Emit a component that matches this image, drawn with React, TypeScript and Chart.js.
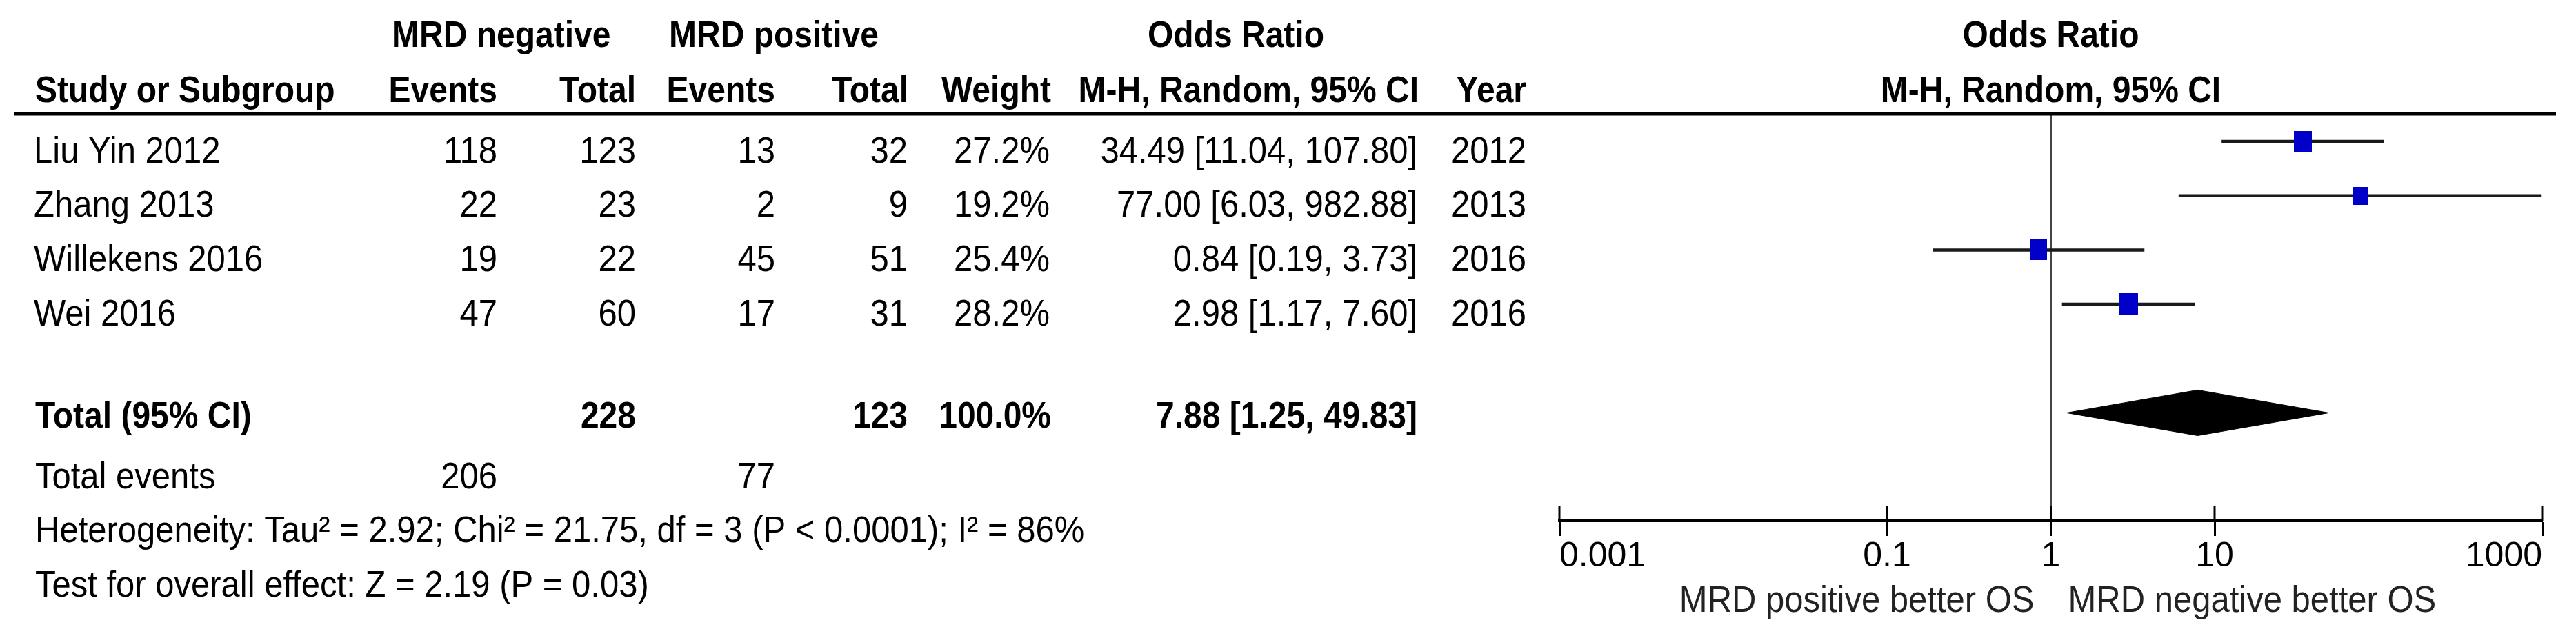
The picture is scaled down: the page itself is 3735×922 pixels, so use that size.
import React, { useEffect, useRef } from 'react';
import { Chart, registerables } from 'chart.js';

Chart.register(...registerables);

// ---------------- data ----------------
const studies = ['Liu Yin 2012', 'Zhang 2013', 'Willekens 2016', 'Wei 2016'];
const negEvents = [118, 22, 19, 47];
const negTotals = [123, 23, 22, 60];
const posEvents = [13, 2, 45, 17];
const posTotals = [32, 9, 51, 31];
const weights = [27.2, 19.2, 25.4, 28.2];
const orEst = [34.49, 77.0, 0.84, 2.98];
const orLow = [11.04, 6.03, 0.19, 1.17];
const orHigh = [107.8, 982.88, 3.73, 7.6];
const years = [2012, 2013, 2016, 2016];

const totalNegN = 228;
const totalPosN = 123;
const totalWeight = 100.0;
const pooledEst = 7.88;
const pooledLow = 1.25;
const pooledHigh = 49.83;
const totalEventsNeg = 206;
const totalEventsPos = 77;

const heterogeneityText = 'Heterogeneity: Tau\u00B2 = 2.92; Chi\u00B2 = 21.75, df = 3 (P < 0.0001); I\u00B2 = 86%';
const overallText = 'Test for overall effect: Z = 2.19 (P = 0.03)';

const tickValues = [0.001, 0.1, 1, 10, 1000];
const tickLabels = ['0.001', '0.1', '1', '10', '1000'];
const favoursLeft = 'MRD positive better OS';
const favoursRight = 'MRD negative better OS';

// ---------------- layout ----------------
const W = 3735;
const H = 922;
const FONT = '"Liberation Sans", Arial, Helvetica, sans-serif';
const Y_MIN = -0.51;
const Y_MAX = 6.99;
const TOTAL_ROW = 5;
const EVENTS_ROW = 6;
const HET_ROW = 7;
const TEST_ROW = 8;
const DIAMOND_HALF = 0.42;
const SY = 1.1;

const fmtOR = (e: number, l: number, h: number) => `${e.toFixed(2)} [${l.toFixed(2)}, ${h.toFixed(2)}]`;

function makeBox(w: number): HTMLCanvasElement {
  const c = document.createElement('canvas');
  const side = Math.round(5 * Math.sqrt(w));
  c.width = side;
  c.height = Math.round(side * 1.2);
  const g = c.getContext('2d')!;
  g.fillStyle = '#0000C8';
  g.fillRect(0, 0, c.width, c.height);
  return c;
}

function txt(ctx: CanvasRenderingContext2D, s: string, x: number, y: number, align: CanvasTextAlign, bold = false, size = 49, color = '#000') {
  ctx.save();
  ctx.translate(x, y);
  ctx.scale(1, SY);
  ctx.font = `${bold ? 'bold ' : ''}${size}px ${FONT}`;
  ctx.fillStyle = color;
  ctx.textAlign = align;
  ctx.textBaseline = 'alphabetic';
  ctx.fillText(s, 0, 0);
  ctx.restore();
}

const tablePlugin = {
  id: 'forestTable',
  afterDraw(chart: any) {
    const ctx: CanvasRenderingContext2D = chart.ctx;
    const xs = chart.scales.x;
    const ys = chart.scales.y;
    const area = chart.chartArea;
    ctx.save();

    // header rule
    ctx.strokeStyle = '#000';
    ctx.lineWidth = 5;
    ctx.beginPath();
    ctx.moveTo(20, area.top);
    ctx.lineTo(3706, area.top);
    ctx.stroke();

    // upper halves of the axis tick marks
    ctx.lineWidth = 3;
    xs.ticks.forEach((t: any) => {
      const px = xs.getPixelForValue(t.value);
      ctx.beginPath();
      ctx.moveTo(px, xs.top - 22);
      ctx.lineTo(px, xs.top);
      ctx.stroke();
    });

    const one = xs.getPixelForValue(1);

    // headers
    txt(ctx, 'MRD negative', 568, 68, 'left', true, 48);
    txt(ctx, 'MRD positive', 970, 68, 'left', true, 48);
    txt(ctx, 'Odds Ratio', 1792, 68, 'center', true, 48);
    txt(ctx, 'Odds Ratio', one, 68, 'center', true, 48);

    txt(ctx, 'Study or Subgroup', 51, 148, 'left', true, 48);
    txt(ctx, 'Events', 721, 148, 'right', true, 48);
    txt(ctx, 'Total', 922, 148, 'right', true, 48);
    txt(ctx, 'Events', 1124, 148, 'right', true, 48);
    txt(ctx, 'Total', 1317, 148, 'right', true, 48);
    txt(ctx, 'Weight', 1524, 148, 'right', true, 48);
    txt(ctx, 'M-H, Random, 95% CI', 2057, 148, 'right', true, 48);
    txt(ctx, 'Year', 2213, 148, 'right', true, 48);
    txt(ctx, 'M-H, Random, 95% CI', one, 148, 'center', true, 48);

    // study rows
    studies.forEach((s, i) => {
      const by = ys.getPixelForValue(i) + 30.5;
      txt(ctx, s, 49, by, 'left');
      txt(ctx, String(negEvents[i]), 721, by, 'right');
      txt(ctx, String(negTotals[i]), 922, by, 'right');
      txt(ctx, String(posEvents[i]), 1124, by, 'right');
      txt(ctx, String(posTotals[i]), 1316, by, 'right');
      txt(ctx, `${weights[i].toFixed(1)}%`, 1522, by, 'right');
      txt(ctx, fmtOR(orEst[i], orLow[i], orHigh[i]), 2055, by, 'right');
      txt(ctx, String(years[i]), 2213, by, 'right');
    });

    // total row
    const ty = ys.getPixelForValue(TOTAL_ROW) + 22;
    txt(ctx, 'Total (95% CI)', 51, ty, 'left', true, 48);
    txt(ctx, String(totalNegN), 922, ty, 'right', true, 48);
    txt(ctx, String(totalPosN), 1316, ty, 'right', true, 48);
    txt(ctx, `${totalWeight.toFixed(1)}%`, 1524, ty, 'right', true, 48);
    txt(ctx, fmtOR(pooledEst, pooledLow, pooledHigh), 2055, ty, 'right', true, 48);

    const ey = ys.getPixelForValue(EVENTS_ROW) + 30.5;
    txt(ctx, 'Total events', 51, ey, 'left');
    txt(ctx, String(totalEventsNeg), 721, ey, 'right');
    txt(ctx, String(totalEventsPos), 1124, ey, 'right');

    txt(ctx, heterogeneityText, 51, ys.getPixelForValue(HET_ROW) + 30.5, 'left');
    txt(ctx, overallText, 51, ys.getPixelForValue(TEST_ROW) + 30.5, 'left');

    // favours labels
    txt(ctx, favoursLeft, one - 24, 887, 'right', false, 49, '#222');
    txt(ctx, favoursRight, one + 25, 887, 'left', false, 49, '#222');

    ctx.restore();
  },
};

export default function App() {
  const ref = useRef<HTMLCanvasElement>(null);

  useEffect(() => {
    const canvas = ref.current;
    if (!canvas) return;
    const boxes = weights.map(makeBox);

    const ciSets = studies.map((s, i) => ({
      label: s,
      data: [
        { x: orLow[i], y: i },
        { x: orHigh[i], y: i },
      ],
      showLine: true,
      borderColor: '#1a1a1a',
      borderWidth: 4.5,
      pointRadius: 0,
      order: 2,
    }));

    const datasets: any[] = [
      {
        label: 'no effect',
        data: [
          { x: 1, y: Y_MIN },
          { x: 1, y: Y_MAX },
        ],
        showLine: true,
        borderColor: '#444',
        borderWidth: 3,
        pointRadius: 0,
        order: 3,
      },
      ...ciSets,
      {
        label: 'estimates',
        data: orEst.map((v, i) => ({ x: v, y: i })),
        showLine: false,
        pointStyle: (c: any) => boxes[c.dataIndex] || 'rect',
        pointRadius: 10,
        pointBorderWidth: 0,
        backgroundColor: '#0000C8',
        order: 0,
      },
      {
        label: 'pooled',
        data: [
          { x: pooledLow, y: TOTAL_ROW },
          { x: pooledEst, y: TOTAL_ROW - DIAMOND_HALF },
          { x: pooledHigh, y: TOTAL_ROW },
          { x: pooledEst, y: TOTAL_ROW + DIAMOND_HALF },
          { x: pooledLow, y: TOTAL_ROW },
        ],
        showLine: true,
        fill: 'shape',
        backgroundColor: '#000',
        borderColor: '#000',
        borderWidth: 1,
        pointRadius: 0,
        order: 1,
      },
    ];

    const chart = new Chart(canvas, {
      type: 'scatter',
      data: { datasets },
      plugins: [tablePlugin],
      options: {
        responsive: false,
        animation: false,
        devicePixelRatio: 1,
        events: [],
        layout: { padding: { left: 2261, right: 49, top: 165, bottom: 0 } },
        plugins: { legend: { display: false }, tooltip: { enabled: false }, title: { display: false } },
        scales: {
          x: {
            type: 'logarithmic',
            position: 'bottom',
            min: 0.001,
            max: 1000,
            afterBuildTicks: (s: any) => {
              s.ticks = tickValues.map((v) => ({ value: v }));
            },
            afterFit: (s: any) => {
              s.height = H - 755;
            },
            ticks: {
              align: 'inner',
              autoSkip: false,
              maxRotation: 0,
              minRotation: 0,
              padding: 0,
              color: '#000',
              font: { family: FONT, size: 50 },
              callback: (_v: any, i: number) => tickLabels[i],
            },
            grid: {
              drawOnChartArea: false,
              drawTicks: true,
              tickLength: 22,
              tickWidth: 3,
              tickColor: '#000',
            },
            border: { display: true, width: 4, color: '#000' },
          },
          y: {
            type: 'linear',
            display: false,
            min: Y_MIN,
            max: Y_MAX,
            reverse: true,
          },
        },
      } as any,
    });

    return () => chart.destroy();
  }, []);

  return (
    <div style={{ position: 'absolute', left: 0, top: 0, width: W, height: H, background: '#fff' }}>
      <canvas ref={ref} width={W} height={H} style={{ display: 'block', width: W, height: H }} />
    </div>
  );
}
